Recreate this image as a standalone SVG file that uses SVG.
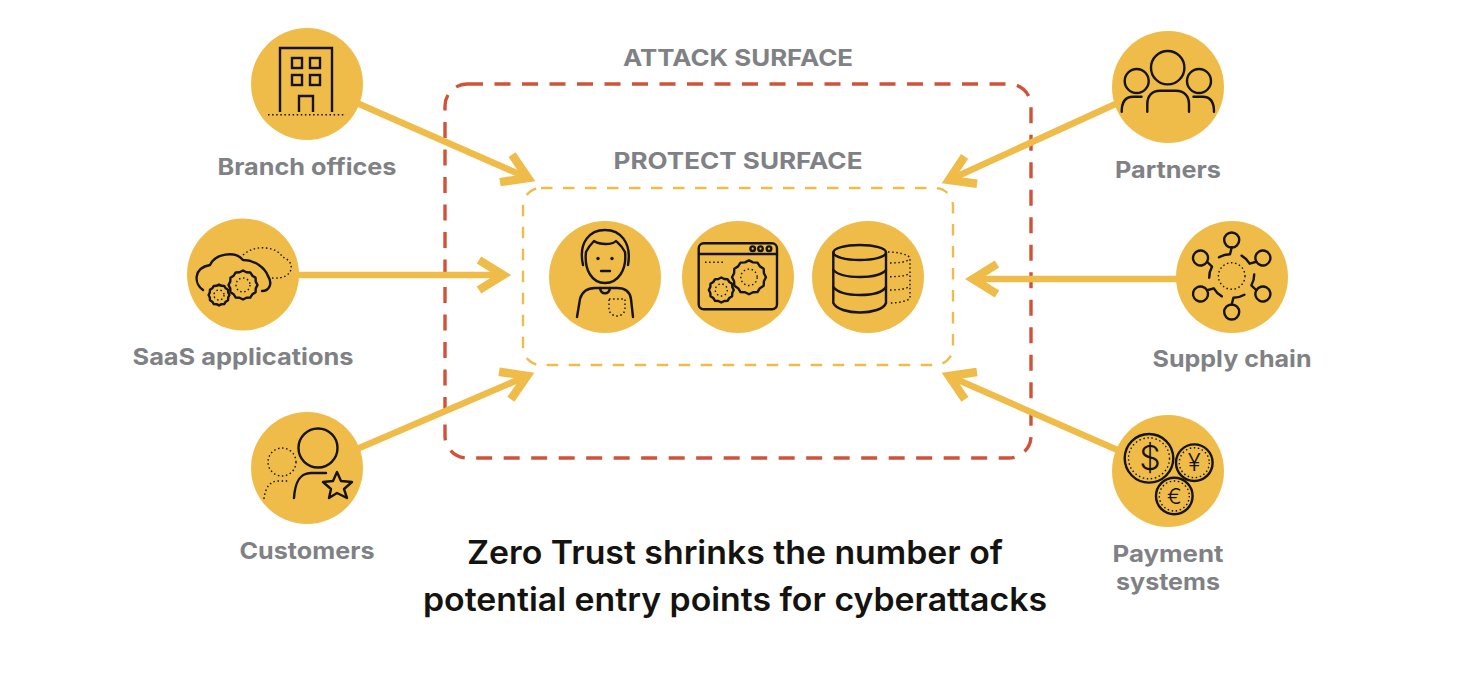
<svg xmlns="http://www.w3.org/2000/svg" xmlns:xlink="http://www.w3.org/1999/xlink" width="1462" height="684" viewBox="0 0 1462 684">
<style>
.disc{fill:#EFBC4A}
.ic{fill:none;stroke:#16130c;stroke-width:2.4;stroke-linecap:round;stroke-linejoin:round}
.dot{fill:none;stroke:#16130c;stroke-width:1.4;stroke-dasharray:1.5 2.6;stroke-linecap:butt}
.lbl{font-family:"Inter","Liberation Sans",sans-serif;font-weight:700;font-size:23px;fill:#808184;text-anchor:middle}
.ttl{font-family:"Inter","Liberation Sans",sans-serif;font-weight:600;font-size:32px;fill:#15130f;text-anchor:middle}
.cur{font-family:"Inter","Liberation Sans",sans-serif;font-weight:300;fill:#16130c;text-anchor:middle}
.arw{fill:none;stroke:#EFBC4A;stroke-width:6.5;marker-end:url(#chev)}
</style>
<defs>
<marker id="chev" markerUnits="userSpaceOnUse" markerWidth="44" markerHeight="48" refX="32" refY="24" orient="auto" overflow="visible">
<path d="M8,9 L32,24 L8,39" fill="none" stroke="#EFBC4A" stroke-width="8.5" stroke-miterlimit="6"/>
</marker>
<g id="gear">
<path class="ic" vector-effect="non-scaling-stroke" style="fill:#EFBC4A" d="M14.5,0L12.75,3.42L12.56,7.25L9.33,9.33L7.25,12.56L3.42,12.75L0,14.5L-3.42,12.75L-7.25,12.56L-9.33,9.33L-12.56,7.25L-12.75,3.42L-14.5,0L-12.75,-3.42L-12.56,-7.25L-9.33,-9.33L-7.25,-12.56L-3.42,-12.75L0,-14.5L3.42,-12.75L7.25,-12.56L9.33,-9.33L12.56,-7.25L12.75,-3.42Z"/>
<circle class="dot" vector-effect="non-scaling-stroke" r="7"/>
</g>
<g id="hub">
<circle class="ic" cx="0" cy="-36" r="7.5"/>
<path class="ic" d="M0,-28.5L-1.7,-21.7A21.5,21.5 0 0 0 -12.7,-18.7"/>
</g>
</defs>
<rect width="1462" height="684" fill="#fff"/>
<g id="surfaces">
<rect x="445" y="84" width="586" height="374" rx="22" fill="none" stroke="#CF5339" stroke-width="3.4" stroke-dasharray="16 11.5"/>
<rect x="523" y="188" width="430" height="177" rx="18" fill="none" stroke="#EFBC4A" stroke-width="2.4" stroke-dasharray="11.5 10.5"/>
<text id="attack-label" x="738" y="66" class="lbl" textLength="230" lengthAdjust="spacingAndGlyphs">ATTACK SURFACE</text>
<text id="protect-label" x="738" y="169" class="lbl" textLength="249" lengthAdjust="spacingAndGlyphs">PROTECT SURFACE</text>
</g>
<g id="connectors">
<line class="arw" x1="350" y1="100" x2="528" y2="178"/>
<line class="arw" x1="290" y1="275" x2="503" y2="275"/>
<line class="arw" x1="350" y1="452" x2="527" y2="376"/>
<line class="arw" x1="1122" y1="101" x2="949" y2="180"/>
<line class="arw" x1="1185" y1="279" x2="973" y2="279"/>
<line class="arw" x1="1122" y1="452" x2="949" y2="376"/>
</g>
<g id="branch-offices">
<circle class="disc" cx="307" cy="84" r="56"/>
<path class="ic" style="stroke-linecap:butt;stroke-linejoin:miter" d="M280,112V48H332V112"/>
<rect class="ic" style="stroke-linejoin:miter" x="292" y="58" width="10" height="10"/><rect class="ic" style="stroke-linejoin:miter" x="310" y="58" width="10" height="10"/>
<rect class="ic" style="stroke-linejoin:miter" x="292" y="75" width="10" height="10"/><rect class="ic" style="stroke-linejoin:miter" x="310" y="75" width="10" height="10"/>
<path class="ic" style="stroke-linecap:butt;stroke-linejoin:miter" d="M299,112V96H313V112"/>
<path class="dot" d="M268,114.7H346"/>
<text x="307" y="175" class="lbl" textLength="179" lengthAdjust="spacingAndGlyphs">Branch offices</text>
</g>
<g id="saas-applications">
<circle class="disc" cx="243" cy="274.5" r="56"/>
<path class="ic" d="M203,290C194,284 193,268 210,265C215,254 235,250 243,260C255,260 265,268 268,276C273,284 269,291 262,291"/>
<path class="dot" d="M243,255C250,249 258,247 266,248C275,249 281,253 282,257C289,259 292,264 291,269C290,275 283,279 272,278"/>
<use xlink:href="#gear" href="#gear" transform="translate(243,285)"/>
<use xlink:href="#gear" href="#gear" transform="translate(219,295) scale(0.72)"/>
<text x="243" y="365" class="lbl" textLength="221" lengthAdjust="spacingAndGlyphs">SaaS applications</text>
</g>
<g id="customers">
<circle class="disc" cx="307" cy="468" r="56"/>
<circle class="ic" cx="318" cy="448" r="19.5"/>
<path class="ic" d="M294,498C295,483 299,473 311,473H326"/>
<path class="ic" d="M337,472L341,481L352,482L344,489L347,498L337,493L329,498L331,489L323,482L333,481Z"/>
<circle class="dot" cx="282" cy="462" r="14"/>
<path class="dot" d="M264,499C265,488 270,481 278,481H289"/>
<text x="307" y="559" class="lbl" textLength="135" lengthAdjust="spacingAndGlyphs">Customers</text>
</g>
<g id="user">
<circle class="disc" cx="605" cy="277" r="56"/>
<path class="ic" d="M583,265C578,242 590,230 605,230C620,230 632,242 628,265"/>
<path class="ic" d="M586,252C584,270 592,283 605,283C618,283 627,270 625,252C622,246 618,243 616,241C612,245 600,245 594,241C591,244 588,248 586,252Z"/>
<circle cx="598" cy="258.500" r="1.7" fill="#16130c"/><circle cx="612" cy="258.500" r="1.700" fill="#16130c"/>
<path class="ic" d="M601,271H610"/>
<path class="ic" d="M577,317L580,299C582,292 587,288 595,288H617C625,288 630,292 631,299L633,317"/>
<path class="ic" d="M600,288C601,295 609,295 610,288"/>
<path class="dot" d="M609,299H625V309C625,313 621,316 617,316C613,316 609,313 609,309Z"/>
</g>
<g id="application">
<circle class="disc" cx="738" cy="277" r="56"/>
<rect class="ic" x="698.700" y="243.300" width="78.300" height="66" rx="5"/>
<path class="ic" d="M699,254H777"/>
<circle class="ic" cx="752.700" cy="248.700" r="2.300"/><circle class="ic" cx="760.500" cy="248.700" r="2.300"/><circle class="ic" cx="769" cy="248.700" r="2.300"/>
<path class="dot" d="M705,262.300H723"/>
<use xlink:href="#gear" href="#gear" transform="translate(749,277.300) scale(1.170)"/>
<use xlink:href="#gear" href="#gear" transform="translate(721.300,290) scale(0.860)"/>
</g>
<g id="database">
<circle class="disc" cx="868" cy="277" r="56"/>
<ellipse class="ic" cx="859.700" cy="252.500" rx="26.300" ry="7.500"/>
<path class="ic" d="M833.300,252.500V303C836,309 848,312.500 860,312.500C872,312.500 884,309 886,303V252.500"/>
<path class="ic" d="M833.300,270C838,275 850,277 860,277C870,277 882,275 886,270"/>
<path class="ic" d="M833.300,287C838,293 850,295 860,295C870,295 882,293 886,287"/>
<path class="dot" d="M888,252C897,252 908,254 910,258V298C908,301 898,303 890,303"/>
<path class="dot" d="M890,263C898,263 907,262 910,259M890,276.700C898,276.700 907,276 910,273M890,290C898,290 907,289 910,286"/>
</g>
<g id="partners">
<circle class="disc" cx="1168" cy="87" r="56"/>
<circle class="ic" cx="1167.700" cy="67.700" r="16.700"/>
<path class="ic" d="M1147.300,111.700V104C1147.300,96 1152,90.700 1160,90.700H1176C1184,90.700 1189,96 1189,104V111.700"/>
<circle class="ic" cx="1136.700" cy="81" r="12"/><circle class="ic" cx="1199" cy="81" r="12"/>
<path class="ic" d="M1121.700,111.700C1121.700,102 1125,96.700 1133,96.700H1141.500"/>
<path class="ic" d="M1214,111.700C1214,102 1210.700,96.700 1202.700,96.700H1193.500"/>
<text x="1168" y="178" class="lbl" textLength="106" lengthAdjust="spacingAndGlyphs">Partners</text>
</g>
<g id="supply-chain">
<circle class="disc" cx="1232" cy="277" r="56"/>
<circle class="dot" cx="1231.700" cy="276" r="13.300"/>
<g transform="translate(1231.700,276)">
<use xlink:href="#hub" href="#hub"/>
<use xlink:href="#hub" href="#hub" transform="rotate(60)"/>
<use xlink:href="#hub" href="#hub" transform="rotate(120)"/>
<use xlink:href="#hub" href="#hub" transform="rotate(180)"/>
<use xlink:href="#hub" href="#hub" transform="rotate(240)"/>
<use xlink:href="#hub" href="#hub" transform="rotate(300)"/>
</g>
<text x="1232" y="367" class="lbl" textLength="159" lengthAdjust="spacingAndGlyphs">Supply chain</text>
</g>
<g id="payment-systems">
<circle class="disc" cx="1168" cy="471" r="56"/>
<circle class="ic" cx="1149" cy="458.300" r="24.300"/><circle class="dot" cx="1149" cy="458.300" r="20.500"/>
<circle class="ic" cx="1194.300" cy="462.700" r="18.300"/><circle class="dot" cx="1194.300" cy="462.700" r="15"/>
<circle class="ic" cx="1174.300" cy="496" r="18.300"/><circle class="dot" cx="1174.300" cy="496" r="15"/>
<text x="1150" y="470" class="cur" font-size="34">$</text>
<text x="1194.300" y="471" class="cur" font-size="24">¥</text>
<text x="1174.300" y="504" class="cur" font-size="22">€</text>
<text x="1168" y="562" class="lbl" textLength="111" lengthAdjust="spacingAndGlyphs">Payment</text>
<text x="1168" y="590" class="lbl" textLength="104" lengthAdjust="spacingAndGlyphs">systems</text>
</g>
<g id="caption">
<text x="735" y="564" class="ttl" textLength="536" lengthAdjust="spacingAndGlyphs">Zero Trust shrinks the number of</text>
<text x="735" y="611" class="ttl" textLength="624" lengthAdjust="spacingAndGlyphs">potential entry points for cyberattacks</text>
</g>
</svg>
